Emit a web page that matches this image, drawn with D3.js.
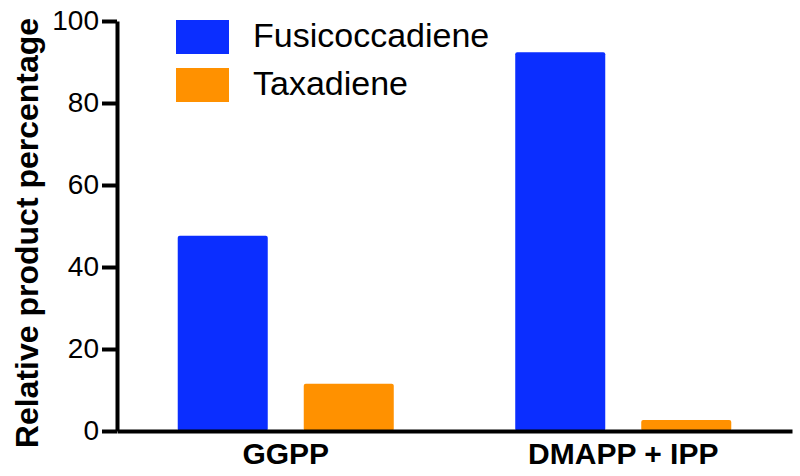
<!DOCTYPE html>
<html>
<head>
<meta charset="utf-8">
<script src="https://cdn.jsdelivr.net/npm/d3@7"></script>
<style>
  body { margin: 0; background: #fff; }
  svg { display: block; font-family: "Liberation Sans", Arial, sans-serif; }
</style>
</head>
<body>
<div id="chart"></div>
<script>
var width = 800;
var height = 476;

// data
var substrates = ["GGPP", "DMAPP + IPP"];
var products = ["Fusicoccadiene", "Taxadiene"];
var fusicoccadiene = [47.6, 92.4];
var taxadiene = [11.5, 2.7];
var yTicks = [0, 20, 40, 60, 80, 100];
var colors = ["#0b2eff", "#ff9100"];

var margin = {top: 21, right: 8, bottom: 45, left: 117};

var svg = d3.select("#chart")
  .append("svg")
  .attr("width", width)
  .attr("height", height);

var x0 = d3.scaleBand()
  .domain(substrates)
  .range([margin.left, width - margin.right])
  .padding(0);

var x1 = d3.scaleBand()
  .domain(products)
  .range([0, x0.bandwidth()])
  .paddingInner(0.2857)
  .paddingOuter(0.482);

var y = d3.scaleLinear()
  .domain([0, 100])
  .range([height - margin.bottom, margin.top]);

var color = d3.scaleOrdinal().domain(products).range(colors);

var rows = substrates.map(function(s, i) {
  return {substrate: s, values: [
    {product: products[0], value: fusicoccadiene[i]},
    {product: products[1], value: taxadiene[i]}
  ]};
});

// bars
var groups = svg.selectAll("g.group")
  .data(rows)
  .enter()
  .append("g")
  .attr("class", "group")
  .attr("transform", function(d) { return "translate(" + x0(d.substrate) + ",0)"; });

groups.selectAll("rect")
  .data(function(d) { return d.values; })
  .enter()
  .append("rect")
  .attr("x", function(d) { return x1(d.product); })
  .attr("y", function(d) { return y(d.value); })
  .attr("width", x1.bandwidth())
  .attr("height", function(d) { return y(0) - y(d.value); })
  .attr("rx", 2)
  .style("fill", function(d) { return color(d.product); });

// y axis
var yAxis = svg.append("g")
  .attr("transform", "translate(" + margin.left + ",0)")
  .call(d3.axisLeft(y).tickValues(yTicks).tickSize(15).tickSizeOuter(0).tickPadding(3));

yAxis.select(".domain").attr("stroke", "#000").attr("stroke-width", 4);
yAxis.selectAll(".tick line").attr("stroke", "#000").attr("stroke-width", 4);
yAxis.selectAll(".tick text")
  .style("font-size", "28px")
  .style("font-family", "Liberation Sans, Arial, sans-serif")
  .attr("fill", "#000");

// x axis
var xAxis = svg.append("g")
  .attr("transform", "translate(0," + y(0) + ")")
  .call(d3.axisBottom(x0).tickSize(0).tickSizeOuter(0).tickPadding(12));

xAxis.select(".domain").attr("stroke", "#000").attr("stroke-width", 4);
xAxis.selectAll(".tick text")
  .style("font-size", "30px")
  .style("font-weight", "bold")
  .style("font-family", "Liberation Sans, Arial, sans-serif")
  .attr("fill", "#000");

// y title
svg.append("text")
  .attr("transform", "translate(38," + 233 + ") rotate(-90)")
  .attr("text-anchor", "middle")
  .style("font-size", "32px")
  .style("font-weight", "bold")
  .text("Relative product percentage");

// legend
var legend = svg.selectAll("g.legend")
  .data(products)
  .enter()
  .append("g")
  .attr("class", "legend")
  .attr("transform", function(d, i) { return "translate(176," + (20 + i * 48) + ")"; });

legend.append("rect")
  .attr("width", 53)
  .attr("height", 34)
  .style("fill", function(d) { return color(d); });

legend.append("text")
  .attr("x", 77)
  .attr("y", 27)
  .style("font-size", "34px")
  .text(function(d) { return d; });
</script>
</body>
</html>
